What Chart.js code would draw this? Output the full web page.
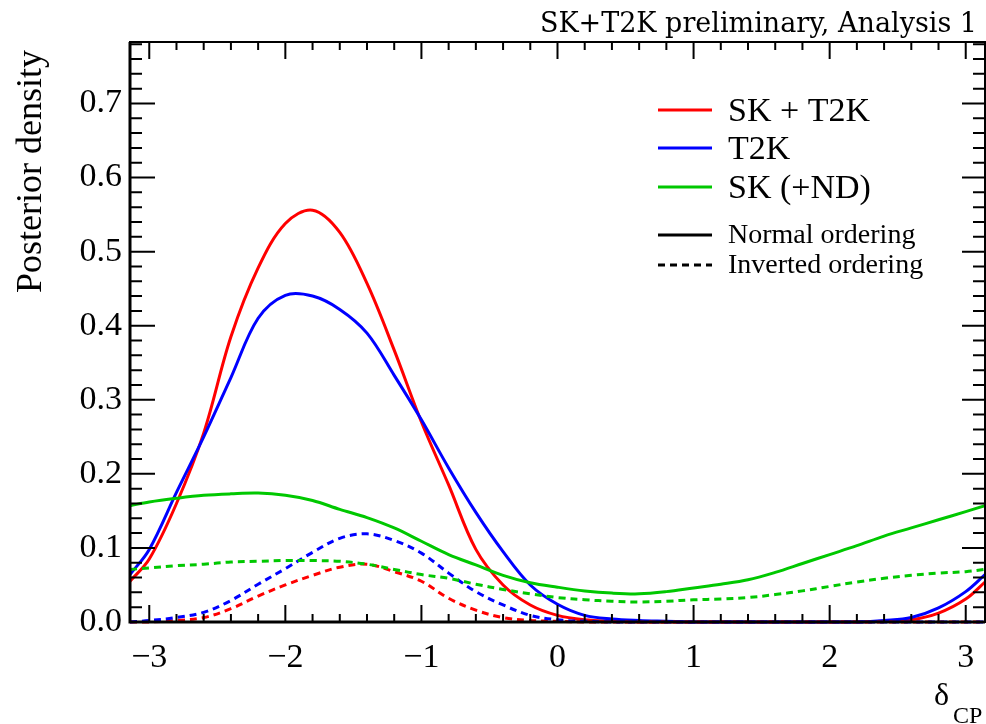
<!DOCTYPE html>
<html>
<head>
<meta charset="utf-8">
<title>delta CP posterior</title>
<script src="https://cdn.jsdelivr.net/npm/chart.js@4.4.0/dist/chart.umd.min.js"></script>
<style>
html, body { margin: 0; padding: 0; background: #fff; }
#wrap { width: 986px; height: 724px; }
</style>
</head>
<body>
<div id="wrap"><canvas id="deltaChart" width="986" height="724"></canvas></div>
<script>
// delta_CP sample points (radians)
const deltaCP = [-3.1416, -3.0, -2.8, -2.6, -2.4, -2.2, -2.0, -1.8, -1.6, -1.4, -1.2, -1.0, -0.8, -0.6, -0.4, -0.2,
  0.0, 0.2, 0.4, 0.6, 0.8, 1.0, 1.2, 1.4, 1.6, 1.8, 2.0, 2.2, 2.4, 2.6, 2.8, 3.0, 3.1416];

// posterior densities, normal ordering (solid)
const skT2kNO = [0.055, 0.085, 0.16, 0.255, 0.385, 0.478, 0.538, 0.556, 0.526, 0.457, 0.367, 0.27, 0.185, 0.098, 0.05, 0.023,
  0.009, 0.003, 0.001, 0, 0, 0, 0, 0, 0, 0, 0, 0, 0.001, 0.003, 0.012, 0.031, 0.054];
const t2kNO = [0.064, 0.098, 0.175, 0.25, 0.33, 0.41, 0.441, 0.44, 0.422, 0.39, 0.333, 0.273, 0.208, 0.148, 0.095, 0.05,
  0.024, 0.009, 0.004, 0.002, 0.001, 0, 0, 0, 0, 0, 0, 0, 0.002, 0.006, 0.019, 0.041, 0.064];
const skNO = [0.157, 0.162, 0.167, 0.171, 0.173, 0.174, 0.171, 0.164, 0.152, 0.141, 0.127, 0.109, 0.091, 0.077, 0.063, 0.053,
  0.047, 0.042, 0.039, 0.038, 0.041, 0.046, 0.051, 0.057, 0.067, 0.079, 0.091, 0.103, 0.116, 0.127, 0.138, 0.149, 0.157];

// inverted ordering (dashed)
const skT2kIO = [0, 0, 0.002, 0.006, 0.018, 0.035, 0.05, 0.063, 0.074, 0.078, 0.068, 0.055, 0.032, 0.016, 0.006, 0.002,
  0.001, 0, 0, 0, 0, 0, 0, 0, 0, 0, 0, 0, 0, 0, 0, 0, 0];
const t2kIO = [0, 0.002, 0.006, 0.013, 0.029, 0.051, 0.072, 0.094, 0.113, 0.119, 0.11, 0.093, 0.066, 0.041, 0.023, 0.009,
  0.003, 0.001, 0, 0, 0, 0, 0, 0, 0, 0, 0, 0, 0, 0, 0, 0, 0];
const skIO = [0.071, 0.073, 0.076, 0.078, 0.081, 0.082, 0.083, 0.083, 0.082, 0.078, 0.071, 0.064, 0.059, 0.051, 0.044, 0.038,
  0.033, 0.03, 0.028, 0.027, 0.028, 0.03, 0.031, 0.033, 0.037, 0.042, 0.048, 0.054, 0.059, 0.063, 0.066, 0.068, 0.071];

// axis ticks
const xMajor = [-3, -2, -1, 0, 1, 2, 3];
const yMajor = [0, 0.1, 0.2, 0.3, 0.4, 0.5, 0.6, 0.7];

const legendItems = ["SK + T2K", "T2K", "SK (+ND)"];
const legendStyles = ["Normal ordering", "Inverted ordering"];

const RED = "#ff0000", BLUE = "#0000ff", GREEN = "#00c800";
const SERIF = "'Liberation Serif', 'DejaVu Serif', serif";

function pts(ys) {
    return deltaCP.map((x, i) => ({x: x, y: ys[i]}));
}

function line(label, ys, color, dashed) {
    return {
        label: label,
        data: pts(ys),
        borderColor: color,
        borderWidth: 3,
        borderDash: dashed ? [7, 5] : [],
        pointRadius: 0,
        fill: false,
        tension: 0.35,
        clip: {left: 0, top: 0, right: 0, bottom: 2}
    };
}

//Kehys, sisäänpäin osoittavat tikit ja tekstit
const framePlugin = {
    id: "frame",
    afterDraw(chart) {
        const ctx = chart.ctx;
        const a = chart.chartArea;
        const sx = chart.scales.x, sy = chart.scales.y;
        ctx.save();
        ctx.strokeStyle = "#000";
        ctx.lineWidth = 2;
        ctx.strokeRect(a.left, a.top, a.right - a.left, a.bottom - a.top);
        ctx.lineWidth = 3;
        ctx.beginPath();
        ctx.moveTo(a.left, a.top); ctx.lineTo(a.left, a.bottom); ctx.lineTo(a.right, a.bottom);
        ctx.stroke();

        ctx.lineWidth = 2;
        ctx.beginPath();
        // x ticks every 0.2
        for (let k = -15; k <= 15; k++) {
            const px = sx.getPixelForValue(k / 5);
            const len = k % 5 === 0 ? 17 : 8;
            ctx.moveTo(px, a.bottom); ctx.lineTo(px, a.bottom - len);
            ctx.moveTo(px, a.top); ctx.lineTo(px, a.top + len);
        }
        // y ticks every 0.02
        for (let k = 0; k <= 39; k++) {
            const v = k / 50;
            if (v > sy.max) break;
            const py = sy.getPixelForValue(v);
            const major = k % 5 === 0;
            ctx.moveTo(a.left, py); ctx.lineTo(a.left + (major ? 25 : 12), py);
            ctx.moveTo(a.right, py); ctx.lineTo(a.right - (major ? 23 : 12), py);
        }
        ctx.stroke();

        // header
        ctx.fillStyle = "#000";
        ctx.textBaseline = "alphabetic";
        ctx.textAlign = "right";
        ctx.font = "27px 'DejaVu Serif', serif";
        ctx.fillText("SK+T2K preliminary, Analysis 1", 977, 32);

        // y title
        ctx.save();
        ctx.translate(32, 50);
        ctx.rotate(-Math.PI / 2);
        ctx.textAlign = "right";
        ctx.textBaseline = "middle";
        ctx.font = "36px " + SERIF;
        ctx.fillText("Posterior density", 0, 0);
        ctx.restore();

        // x title
        ctx.textAlign = "left";
        ctx.font = "32px " + SERIF;
        ctx.fillText("\u03b4", 934, 705);
        ctx.font = "24px " + SERIF;
        ctx.fillText("CP", 953, 723);

        // legend
        const colors = [RED, BLUE, GREEN];
        const rowY = [110, 148, 187];
        ctx.font = "34px " + SERIF;
        ctx.textBaseline = "middle";
        legendItems.forEach((t, i) => {
            ctx.strokeStyle = colors[i];
            ctx.lineWidth = 3;
            ctx.setLineDash([]);
            ctx.beginPath();
            ctx.moveTo(658, rowY[i]); ctx.lineTo(712, rowY[i]);
            ctx.stroke();
            ctx.fillText(t, 728, rowY[i] + 2);
        });
        const styleY = [235, 265];
        ctx.font = "28px " + SERIF;
        legendStyles.forEach((t, i) => {
            ctx.strokeStyle = "#000";
            ctx.lineWidth = 3;
            ctx.setLineDash(i === 0 ? [] : [7, 5]);
            ctx.beginPath();
            ctx.moveTo(658, styleY[i]); ctx.lineTo(712, styleY[i]);
            ctx.stroke();
            ctx.fillText(t, 728, styleY[i] + 1);
        });
        ctx.restore();
    }
};

const chartContext = document.getElementById("deltaChart").getContext("2d");
new Chart(chartContext, {
    type: "line",
    data: {
        datasets: [
            line("SK (+ND) IO", skIO, GREEN, true),
            line("T2K IO", t2kIO, BLUE, true),
            line("SK + T2K IO", skT2kIO, RED, true),
            line("SK (+ND)", skNO, GREEN, false),
            line("T2K", t2kNO, BLUE, false),
            line("SK + T2K", skT2kNO, RED, false)
        ]
    },
    options: {
        responsive: false,
        animation: false,
        layout: {padding: {left: 0, right: 1, top: 42, bottom: 0}},
        plugins: {legend: {display: false}, tooltip: {enabled: false}},
        scales: {
            x: {
                type: "linear",
                min: -Math.PI,
                max: Math.PI,
                grid: {display: false, drawTicks: false},
                border: {display: false},
                afterBuildTicks: s => { s.ticks = xMajor.map(v => ({value: v})); },
                afterFit: s => { s.height = 102; s.paddingLeft = 0; s.paddingRight = 0; },
                ticks: {
                    padding: 16,
                    autoSkip: false,
                    maxRotation: 0,
                    color: "#000",
                    font: {family: SERIF, size: 34},
                    callback: v => String(v).replace("-", "\u2212")
                }
            },
            y: {
                min: 0,
                max: 0.783,
                grid: {display: false, drawTicks: false},
                border: {display: false},
                afterBuildTicks: s => { s.ticks = yMajor.map(v => ({value: v})); },
                afterFit: s => { s.width = 130; s.paddingTop = 0; s.paddingBottom = 0; },
                ticks: {
                    padding: 8,
                    color: "#000",
                    font: {family: SERIF, size: 34},
                    callback: v => v.toFixed(1)
                }
            }
        }
    },
    plugins: [framePlugin]
});
</script>
</body>
</html>
